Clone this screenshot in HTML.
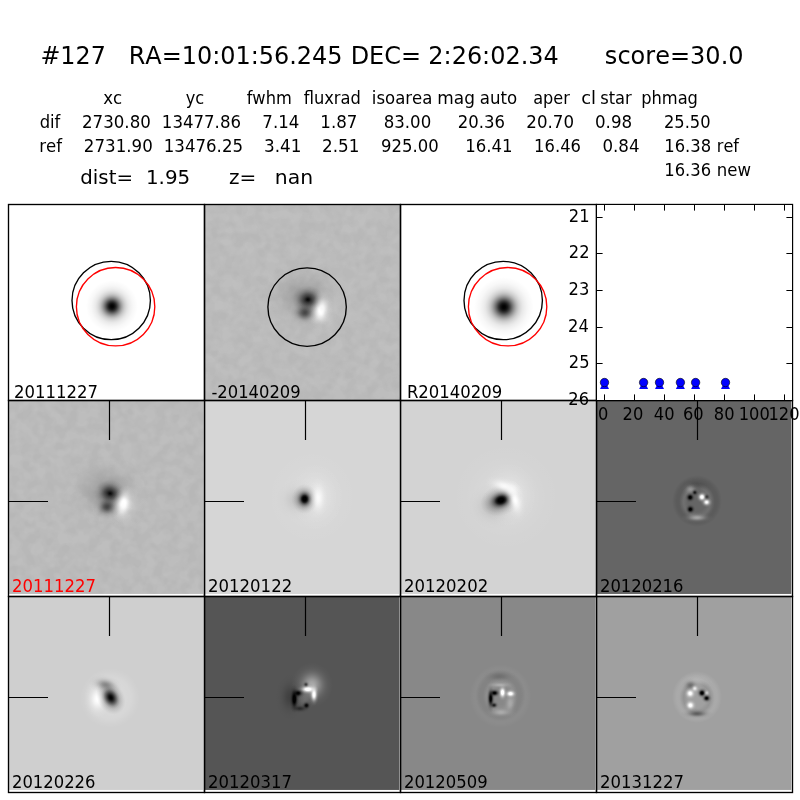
<!DOCTYPE html>
<html lang="en"><head><meta charset="utf-8"><title>#127 candidate</title>
<style>
html,body{margin:0;padding:0;background:#fff;}
body{width:800px;height:800px;overflow:hidden;}
svg{display:block;}
</style></head>
<body>
<svg width="800" height="800" viewBox="0 0 800 800">
<defs>
<filter id="nz" x="0" y="0" width="100%" height="100%" color-interpolation-filters="sRGB"><feTurbulence type="fractalNoise" baseFrequency="0.09" numOctaves="2" seed="7" result="t"/><feColorMatrix in="t" type="matrix" values="0 0 0 0 0  0 0 0 0 0  0 0 0 0 0  3 0 0 0 -1"/></filter><filter id="nz2" x="0" y="0" width="100%" height="100%" color-interpolation-filters="sRGB"><feTurbulence type="fractalNoise" baseFrequency="0.09" numOctaves="2" seed="11" result="t"/><feColorMatrix in="t" type="matrix" values="0 0 0 0 1  0 0 0 0 1  0 0 0 0 1  3 0 0 0 -1"/></filter>
<radialGradient id="g1"><stop offset="0.0" stop-color="#000" stop-opacity="1.0"/><stop offset="0.062" stop-color="#000" stop-opacity="0.977"/><stop offset="0.125" stop-color="#000" stop-opacity="0.902"/><stop offset="0.188" stop-color="#000" stop-opacity="0.777"/><stop offset="0.25" stop-color="#000" stop-opacity="0.625"/><stop offset="0.312" stop-color="#000" stop-opacity="0.481"/><stop offset="0.375" stop-color="#000" stop-opacity="0.356"/><stop offset="0.438" stop-color="#000" stop-opacity="0.254"/><stop offset="0.5" stop-color="#000" stop-opacity="0.182"/><stop offset="0.562" stop-color="#000" stop-opacity="0.132"/><stop offset="0.625" stop-color="#000" stop-opacity="0.09"/><stop offset="0.688" stop-color="#000" stop-opacity="0.065"/><stop offset="0.75" stop-color="#000" stop-opacity="0.046"/><stop offset="0.812" stop-color="#000" stop-opacity="0.028"/><stop offset="0.875" stop-color="#000" stop-opacity="0.019"/><stop offset="0.938" stop-color="#000" stop-opacity="0.009"/><stop offset="1" stop-color="#000" stop-opacity="0"/></radialGradient>
<clipPath id="c11"><rect x="8" y="204" width="196" height="196"/></clipPath>
<radialGradient id="g2"><stop offset="0.0" stop-color="#000" stop-opacity="0.18"/><stop offset="0.083" stop-color="#000" stop-opacity="0.174"/><stop offset="0.167" stop-color="#000" stop-opacity="0.159"/><stop offset="0.25" stop-color="#000" stop-opacity="0.136"/><stop offset="0.333" stop-color="#000" stop-opacity="0.109"/><stop offset="0.417" stop-color="#000" stop-opacity="0.082"/><stop offset="0.5" stop-color="#000" stop-opacity="0.058"/><stop offset="0.583" stop-color="#000" stop-opacity="0.039"/><stop offset="0.667" stop-color="#000" stop-opacity="0.024"/><stop offset="0.75" stop-color="#000" stop-opacity="0.014"/><stop offset="0.833" stop-color="#000" stop-opacity="0.008"/><stop offset="0.917" stop-color="#000" stop-opacity="0.004"/><stop offset="1" stop-color="#000" stop-opacity="0"/></radialGradient>
<radialGradient id="g3"><stop offset="0.0" stop-color="#fff" stop-opacity="0.25"/><stop offset="0.083" stop-color="#fff" stop-opacity="0.242"/><stop offset="0.167" stop-color="#fff" stop-opacity="0.221"/><stop offset="0.25" stop-color="#fff" stop-opacity="0.189"/><stop offset="0.333" stop-color="#fff" stop-opacity="0.152"/><stop offset="0.417" stop-color="#fff" stop-opacity="0.114"/><stop offset="0.5" stop-color="#fff" stop-opacity="0.081"/><stop offset="0.583" stop-color="#fff" stop-opacity="0.054"/><stop offset="0.667" stop-color="#fff" stop-opacity="0.034"/><stop offset="0.75" stop-color="#fff" stop-opacity="0.02"/><stop offset="0.833" stop-color="#fff" stop-opacity="0.011"/><stop offset="0.917" stop-color="#fff" stop-opacity="0.006"/><stop offset="1" stop-color="#fff" stop-opacity="0"/></radialGradient>
<radialGradient id="g4"><stop offset="0.0" stop-color="#000" stop-opacity="1.0"/><stop offset="0.062" stop-color="#000" stop-opacity="0.924"/><stop offset="0.125" stop-color="#000" stop-opacity="0.843"/><stop offset="0.188" stop-color="#000" stop-opacity="0.729"/><stop offset="0.25" stop-color="#000" stop-opacity="0.648"/><stop offset="0.312" stop-color="#000" stop-opacity="0.57"/><stop offset="0.375" stop-color="#000" stop-opacity="0.492"/><stop offset="0.438" stop-color="#000" stop-opacity="0.408"/><stop offset="0.5" stop-color="#000" stop-opacity="0.323"/><stop offset="0.562" stop-color="#000" stop-opacity="0.247"/><stop offset="0.625" stop-color="#000" stop-opacity="0.186"/><stop offset="0.688" stop-color="#000" stop-opacity="0.125"/><stop offset="0.75" stop-color="#000" stop-opacity="0.09"/><stop offset="0.812" stop-color="#000" stop-opacity="0.058"/><stop offset="0.875" stop-color="#000" stop-opacity="0.033"/><stop offset="0.938" stop-color="#000" stop-opacity="0.016"/><stop offset="1" stop-color="#000" stop-opacity="0"/></radialGradient>
<radialGradient id="g5"><stop offset="0.0" stop-color="#000" stop-opacity="0.62"/><stop offset="0.083" stop-color="#000" stop-opacity="0.601"/><stop offset="0.167" stop-color="#000" stop-opacity="0.547"/><stop offset="0.25" stop-color="#000" stop-opacity="0.468"/><stop offset="0.333" stop-color="#000" stop-opacity="0.376"/><stop offset="0.417" stop-color="#000" stop-opacity="0.284"/><stop offset="0.5" stop-color="#000" stop-opacity="0.201"/><stop offset="0.583" stop-color="#000" stop-opacity="0.134"/><stop offset="0.667" stop-color="#000" stop-opacity="0.084"/><stop offset="0.75" stop-color="#000" stop-opacity="0.049"/><stop offset="0.833" stop-color="#000" stop-opacity="0.027"/><stop offset="0.917" stop-color="#000" stop-opacity="0.014"/><stop offset="1" stop-color="#000" stop-opacity="0"/></radialGradient>
<radialGradient id="g6"><stop offset="0.0" stop-color="#fff" stop-opacity="1.0"/><stop offset="0.083" stop-color="#fff" stop-opacity="1.0"/><stop offset="0.167" stop-color="#fff" stop-opacity="1.0"/><stop offset="0.25" stop-color="#fff" stop-opacity="0.906"/><stop offset="0.333" stop-color="#fff" stop-opacity="0.728"/><stop offset="0.417" stop-color="#fff" stop-opacity="0.549"/><stop offset="0.5" stop-color="#fff" stop-opacity="0.39"/><stop offset="0.583" stop-color="#fff" stop-opacity="0.26"/><stop offset="0.667" stop-color="#fff" stop-opacity="0.162"/><stop offset="0.75" stop-color="#fff" stop-opacity="0.095"/><stop offset="0.833" stop-color="#fff" stop-opacity="0.053"/><stop offset="0.917" stop-color="#fff" stop-opacity="0.027"/><stop offset="1" stop-color="#fff" stop-opacity="0"/></radialGradient>
<clipPath id="c12"><rect x="204" y="204" width="196" height="196"/></clipPath>
<clipPath id="c13"><rect x="400" y="204" width="196" height="196"/></clipPath>
<clipPath id="c21"><rect x="8.5" y="400.5" width="195.0" height="193.45"/></clipPath>
<radialGradient id="g7"><stop offset="0.0" stop-color="#fff" stop-opacity="0.15"/><stop offset="0.083" stop-color="#fff" stop-opacity="0.145"/><stop offset="0.167" stop-color="#fff" stop-opacity="0.132"/><stop offset="0.25" stop-color="#fff" stop-opacity="0.113"/><stop offset="0.333" stop-color="#fff" stop-opacity="0.091"/><stop offset="0.417" stop-color="#fff" stop-opacity="0.069"/><stop offset="0.5" stop-color="#fff" stop-opacity="0.049"/><stop offset="0.583" stop-color="#fff" stop-opacity="0.032"/><stop offset="0.667" stop-color="#fff" stop-opacity="0.02"/><stop offset="0.75" stop-color="#fff" stop-opacity="0.012"/><stop offset="0.833" stop-color="#fff" stop-opacity="0.007"/><stop offset="0.917" stop-color="#fff" stop-opacity="0.003"/><stop offset="1" stop-color="#fff" stop-opacity="0"/></radialGradient>
<radialGradient id="g8"><stop offset="0.0" stop-color="#000" stop-opacity="0.12"/><stop offset="0.083" stop-color="#000" stop-opacity="0.116"/><stop offset="0.167" stop-color="#000" stop-opacity="0.106"/><stop offset="0.25" stop-color="#000" stop-opacity="0.091"/><stop offset="0.333" stop-color="#000" stop-opacity="0.073"/><stop offset="0.417" stop-color="#000" stop-opacity="0.055"/><stop offset="0.5" stop-color="#000" stop-opacity="0.039"/><stop offset="0.583" stop-color="#000" stop-opacity="0.026"/><stop offset="0.667" stop-color="#000" stop-opacity="0.016"/><stop offset="0.75" stop-color="#000" stop-opacity="0.01"/><stop offset="0.833" stop-color="#000" stop-opacity="0.005"/><stop offset="0.917" stop-color="#000" stop-opacity="0.003"/><stop offset="1" stop-color="#000" stop-opacity="0"/></radialGradient>
<radialGradient id="g9"><stop offset="0.0" stop-color="#000" stop-opacity="1.0"/><stop offset="0.062" stop-color="#000" stop-opacity="1.0"/><stop offset="0.125" stop-color="#000" stop-opacity="1.0"/><stop offset="0.188" stop-color="#000" stop-opacity="0.919"/><stop offset="0.25" stop-color="#000" stop-opacity="0.8"/><stop offset="0.312" stop-color="#000" stop-opacity="0.613"/><stop offset="0.375" stop-color="#000" stop-opacity="0.472"/><stop offset="0.438" stop-color="#000" stop-opacity="0.355"/><stop offset="0.5" stop-color="#000" stop-opacity="0.263"/><stop offset="0.562" stop-color="#000" stop-opacity="0.192"/><stop offset="0.625" stop-color="#000" stop-opacity="0.137"/><stop offset="0.688" stop-color="#000" stop-opacity="0.106"/><stop offset="0.75" stop-color="#000" stop-opacity="0.075"/><stop offset="0.812" stop-color="#000" stop-opacity="0.047"/><stop offset="0.875" stop-color="#000" stop-opacity="0.031"/><stop offset="0.938" stop-color="#000" stop-opacity="0.016"/><stop offset="1" stop-color="#000" stop-opacity="0"/></radialGradient>
<radialGradient id="g10"><stop offset="0.0" stop-color="#fff" stop-opacity="0.85"/><stop offset="0.083" stop-color="#fff" stop-opacity="0.824"/><stop offset="0.167" stop-color="#fff" stop-opacity="0.75"/><stop offset="0.25" stop-color="#fff" stop-opacity="0.642"/><stop offset="0.333" stop-color="#fff" stop-opacity="0.516"/><stop offset="0.417" stop-color="#fff" stop-opacity="0.389"/><stop offset="0.5" stop-color="#fff" stop-opacity="0.276"/><stop offset="0.583" stop-color="#fff" stop-opacity="0.184"/><stop offset="0.667" stop-color="#fff" stop-opacity="0.115"/><stop offset="0.75" stop-color="#fff" stop-opacity="0.068"/><stop offset="0.833" stop-color="#fff" stop-opacity="0.037"/><stop offset="0.917" stop-color="#fff" stop-opacity="0.019"/><stop offset="1" stop-color="#fff" stop-opacity="0"/></radialGradient>
<clipPath id="c22"><rect x="204.5" y="400.5" width="195.0" height="193.45"/></clipPath>
<radialGradient id="g11"><stop offset="0.0" stop-color="#fff" stop-opacity="0.22"/><stop offset="0.083" stop-color="#fff" stop-opacity="0.213"/><stop offset="0.167" stop-color="#fff" stop-opacity="0.194"/><stop offset="0.25" stop-color="#fff" stop-opacity="0.166"/><stop offset="0.333" stop-color="#fff" stop-opacity="0.133"/><stop offset="0.417" stop-color="#fff" stop-opacity="0.101"/><stop offset="0.5" stop-color="#fff" stop-opacity="0.071"/><stop offset="0.583" stop-color="#fff" stop-opacity="0.048"/><stop offset="0.667" stop-color="#fff" stop-opacity="0.03"/><stop offset="0.75" stop-color="#fff" stop-opacity="0.018"/><stop offset="0.833" stop-color="#fff" stop-opacity="0.01"/><stop offset="0.917" stop-color="#fff" stop-opacity="0.005"/><stop offset="1" stop-color="#fff" stop-opacity="0"/></radialGradient>
<radialGradient id="g12"><stop offset="0.0" stop-color="#fff" stop-opacity="0.3"/><stop offset="0.083" stop-color="#fff" stop-opacity="0.291"/><stop offset="0.167" stop-color="#fff" stop-opacity="0.265"/><stop offset="0.25" stop-color="#fff" stop-opacity="0.226"/><stop offset="0.333" stop-color="#fff" stop-opacity="0.182"/><stop offset="0.417" stop-color="#fff" stop-opacity="0.137"/><stop offset="0.5" stop-color="#fff" stop-opacity="0.097"/><stop offset="0.583" stop-color="#fff" stop-opacity="0.065"/><stop offset="0.667" stop-color="#fff" stop-opacity="0.041"/><stop offset="0.75" stop-color="#fff" stop-opacity="0.024"/><stop offset="0.833" stop-color="#fff" stop-opacity="0.013"/><stop offset="0.917" stop-color="#fff" stop-opacity="0.007"/><stop offset="1" stop-color="#fff" stop-opacity="0"/></radialGradient>
<radialGradient id="g13"><stop offset="0.0" stop-color="#000" stop-opacity="0.14"/><stop offset="0.083" stop-color="#000" stop-opacity="0.136"/><stop offset="0.167" stop-color="#000" stop-opacity="0.124"/><stop offset="0.25" stop-color="#000" stop-opacity="0.106"/><stop offset="0.333" stop-color="#000" stop-opacity="0.085"/><stop offset="0.417" stop-color="#000" stop-opacity="0.064"/><stop offset="0.5" stop-color="#000" stop-opacity="0.045"/><stop offset="0.583" stop-color="#000" stop-opacity="0.03"/><stop offset="0.667" stop-color="#000" stop-opacity="0.019"/><stop offset="0.75" stop-color="#000" stop-opacity="0.011"/><stop offset="0.833" stop-color="#000" stop-opacity="0.006"/><stop offset="0.917" stop-color="#000" stop-opacity="0.003"/><stop offset="1" stop-color="#000" stop-opacity="0"/></radialGradient>
<radialGradient id="g14"><stop offset="0.0" stop-color="#fff" stop-opacity="1.0"/><stop offset="0.083" stop-color="#fff" stop-opacity="0.969"/><stop offset="0.167" stop-color="#fff" stop-opacity="0.882"/><stop offset="0.25" stop-color="#fff" stop-opacity="0.755"/><stop offset="0.333" stop-color="#fff" stop-opacity="0.607"/><stop offset="0.417" stop-color="#fff" stop-opacity="0.458"/><stop offset="0.5" stop-color="#fff" stop-opacity="0.325"/><stop offset="0.583" stop-color="#fff" stop-opacity="0.216"/><stop offset="0.667" stop-color="#fff" stop-opacity="0.135"/><stop offset="0.75" stop-color="#fff" stop-opacity="0.08"/><stop offset="0.833" stop-color="#fff" stop-opacity="0.044"/><stop offset="0.917" stop-color="#fff" stop-opacity="0.023"/><stop offset="1" stop-color="#fff" stop-opacity="0"/></radialGradient>
<radialGradient id="g15"><stop offset="0.0" stop-color="#fff" stop-opacity="0.6"/><stop offset="0.083" stop-color="#fff" stop-opacity="0.582"/><stop offset="0.167" stop-color="#fff" stop-opacity="0.529"/><stop offset="0.25" stop-color="#fff" stop-opacity="0.453"/><stop offset="0.333" stop-color="#fff" stop-opacity="0.364"/><stop offset="0.417" stop-color="#fff" stop-opacity="0.275"/><stop offset="0.5" stop-color="#fff" stop-opacity="0.195"/><stop offset="0.583" stop-color="#fff" stop-opacity="0.13"/><stop offset="0.667" stop-color="#fff" stop-opacity="0.081"/><stop offset="0.75" stop-color="#fff" stop-opacity="0.048"/><stop offset="0.833" stop-color="#fff" stop-opacity="0.026"/><stop offset="0.917" stop-color="#fff" stop-opacity="0.014"/><stop offset="1" stop-color="#fff" stop-opacity="0"/></radialGradient>
<clipPath id="c23"><rect x="400.5" y="400.5" width="195.0" height="193.45"/></clipPath>
<radialGradient id="g16"><stop offset="0.0" stop-color="#000" stop-opacity="0.0"/><stop offset="0.062" stop-color="#000" stop-opacity="0.0"/><stop offset="0.125" stop-color="#000" stop-opacity="0.0"/><stop offset="0.188" stop-color="#000" stop-opacity="0.0"/><stop offset="0.25" stop-color="#000" stop-opacity="0.0"/><stop offset="0.312" stop-color="#000" stop-opacity="0.0"/><stop offset="0.375" stop-color="#000" stop-opacity="0.0"/><stop offset="0.438" stop-color="#000" stop-opacity="0.0"/><stop offset="0.5" stop-color="#000" stop-opacity="0.0"/><stop offset="0.562" stop-color="#000" stop-opacity="0.023"/><stop offset="0.625" stop-color="#000" stop-opacity="0.059"/><stop offset="0.688" stop-color="#000" stop-opacity="0.095"/><stop offset="0.75" stop-color="#000" stop-opacity="0.1"/><stop offset="0.812" stop-color="#000" stop-opacity="0.1"/><stop offset="0.875" stop-color="#000" stop-opacity="0.072"/><stop offset="0.938" stop-color="#000" stop-opacity="0.036"/><stop offset="1" stop-color="#000" stop-opacity="0"/></radialGradient>
<radialGradient id="g17"><stop offset="0.0" stop-color="#fff" stop-opacity="0.0"/><stop offset="0.062" stop-color="#fff" stop-opacity="0.0"/><stop offset="0.125" stop-color="#fff" stop-opacity="0.0"/><stop offset="0.188" stop-color="#fff" stop-opacity="0.0"/><stop offset="0.25" stop-color="#fff" stop-opacity="0.0"/><stop offset="0.312" stop-color="#fff" stop-opacity="0.0"/><stop offset="0.375" stop-color="#fff" stop-opacity="0.0"/><stop offset="0.438" stop-color="#fff" stop-opacity="0.0"/><stop offset="0.5" stop-color="#fff" stop-opacity="0.0"/><stop offset="0.562" stop-color="#fff" stop-opacity="0.02"/><stop offset="0.625" stop-color="#fff" stop-opacity="0.04"/><stop offset="0.688" stop-color="#fff" stop-opacity="0.06"/><stop offset="0.75" stop-color="#fff" stop-opacity="0.08"/><stop offset="0.812" stop-color="#fff" stop-opacity="0.06"/><stop offset="0.875" stop-color="#fff" stop-opacity="0.04"/><stop offset="0.938" stop-color="#fff" stop-opacity="0.02"/><stop offset="1" stop-color="#fff" stop-opacity="0"/></radialGradient>
<radialGradient id="g18"><stop offset="0.0" stop-color="#000" stop-opacity="0.2"/><stop offset="0.083" stop-color="#000" stop-opacity="0.194"/><stop offset="0.167" stop-color="#000" stop-opacity="0.176"/><stop offset="0.25" stop-color="#000" stop-opacity="0.151"/><stop offset="0.333" stop-color="#000" stop-opacity="0.121"/><stop offset="0.417" stop-color="#000" stop-opacity="0.092"/><stop offset="0.5" stop-color="#000" stop-opacity="0.065"/><stop offset="0.583" stop-color="#000" stop-opacity="0.043"/><stop offset="0.667" stop-color="#000" stop-opacity="0.027"/><stop offset="0.75" stop-color="#000" stop-opacity="0.016"/><stop offset="0.833" stop-color="#000" stop-opacity="0.009"/><stop offset="0.917" stop-color="#000" stop-opacity="0.005"/><stop offset="1" stop-color="#000" stop-opacity="0"/></radialGradient>
<radialGradient id="g19"><stop offset="0.0" stop-color="#fff" stop-opacity="0.4"/><stop offset="0.083" stop-color="#fff" stop-opacity="0.388"/><stop offset="0.167" stop-color="#fff" stop-opacity="0.353"/><stop offset="0.25" stop-color="#fff" stop-opacity="0.302"/><stop offset="0.333" stop-color="#fff" stop-opacity="0.243"/><stop offset="0.417" stop-color="#fff" stop-opacity="0.183"/><stop offset="0.5" stop-color="#fff" stop-opacity="0.13"/><stop offset="0.583" stop-color="#fff" stop-opacity="0.087"/><stop offset="0.667" stop-color="#fff" stop-opacity="0.054"/><stop offset="0.75" stop-color="#fff" stop-opacity="0.032"/><stop offset="0.833" stop-color="#fff" stop-opacity="0.018"/><stop offset="0.917" stop-color="#fff" stop-opacity="0.009"/><stop offset="1" stop-color="#fff" stop-opacity="0"/></radialGradient>
<radialGradient id="g20"><stop offset="0.0" stop-color="#000" stop-opacity="1.0"/><stop offset="0.083" stop-color="#000" stop-opacity="1.0"/><stop offset="0.167" stop-color="#000" stop-opacity="1.0"/><stop offset="0.25" stop-color="#000" stop-opacity="0.868"/><stop offset="0.333" stop-color="#000" stop-opacity="0.698"/><stop offset="0.417" stop-color="#000" stop-opacity="0.527"/><stop offset="0.5" stop-color="#000" stop-opacity="0.373"/><stop offset="0.583" stop-color="#000" stop-opacity="0.249"/><stop offset="0.667" stop-color="#000" stop-opacity="0.156"/><stop offset="0.75" stop-color="#000" stop-opacity="0.091"/><stop offset="0.833" stop-color="#000" stop-opacity="0.051"/><stop offset="0.917" stop-color="#000" stop-opacity="0.026"/><stop offset="1" stop-color="#000" stop-opacity="0"/></radialGradient>
<radialGradient id="g21"><stop offset="0.0" stop-color="#000" stop-opacity="0.8"/><stop offset="0.083" stop-color="#000" stop-opacity="0.775"/><stop offset="0.167" stop-color="#000" stop-opacity="0.706"/><stop offset="0.25" stop-color="#000" stop-opacity="0.604"/><stop offset="0.333" stop-color="#000" stop-opacity="0.485"/><stop offset="0.417" stop-color="#000" stop-opacity="0.366"/><stop offset="0.5" stop-color="#000" stop-opacity="0.26"/><stop offset="0.583" stop-color="#000" stop-opacity="0.173"/><stop offset="0.667" stop-color="#000" stop-opacity="0.108"/><stop offset="0.75" stop-color="#000" stop-opacity="0.064"/><stop offset="0.833" stop-color="#000" stop-opacity="0.035"/><stop offset="0.917" stop-color="#000" stop-opacity="0.018"/><stop offset="1" stop-color="#000" stop-opacity="0"/></radialGradient>
<radialGradient id="g22"><stop offset="0.0" stop-color="#fff" stop-opacity="1.0"/><stop offset="0.083" stop-color="#fff" stop-opacity="1.0"/><stop offset="0.167" stop-color="#fff" stop-opacity="0.927"/><stop offset="0.25" stop-color="#fff" stop-opacity="0.793"/><stop offset="0.333" stop-color="#fff" stop-opacity="0.637"/><stop offset="0.417" stop-color="#fff" stop-opacity="0.481"/><stop offset="0.5" stop-color="#fff" stop-opacity="0.341"/><stop offset="0.583" stop-color="#fff" stop-opacity="0.227"/><stop offset="0.667" stop-color="#fff" stop-opacity="0.142"/><stop offset="0.75" stop-color="#fff" stop-opacity="0.084"/><stop offset="0.833" stop-color="#fff" stop-opacity="0.046"/><stop offset="0.917" stop-color="#fff" stop-opacity="0.024"/><stop offset="1" stop-color="#fff" stop-opacity="0"/></radialGradient>
<radialGradient id="g23"><stop offset="0.0" stop-color="#000" stop-opacity="0.5"/><stop offset="0.083" stop-color="#000" stop-opacity="0.485"/><stop offset="0.167" stop-color="#000" stop-opacity="0.441"/><stop offset="0.25" stop-color="#000" stop-opacity="0.377"/><stop offset="0.333" stop-color="#000" stop-opacity="0.303"/><stop offset="0.417" stop-color="#000" stop-opacity="0.229"/><stop offset="0.5" stop-color="#000" stop-opacity="0.162"/><stop offset="0.583" stop-color="#000" stop-opacity="0.108"/><stop offset="0.667" stop-color="#000" stop-opacity="0.068"/><stop offset="0.75" stop-color="#000" stop-opacity="0.04"/><stop offset="0.833" stop-color="#000" stop-opacity="0.022"/><stop offset="0.917" stop-color="#000" stop-opacity="0.011"/><stop offset="1" stop-color="#000" stop-opacity="0"/></radialGradient>
<clipPath id="c24"><rect x="596.5" y="400.5" width="195.0" height="193.45"/></clipPath>
<radialGradient id="g24"><stop offset="0.0" stop-color="#fff" stop-opacity="0.2"/><stop offset="0.062" stop-color="#fff" stop-opacity="0.2"/><stop offset="0.125" stop-color="#fff" stop-opacity="0.2"/><stop offset="0.188" stop-color="#fff" stop-opacity="0.2"/><stop offset="0.25" stop-color="#fff" stop-opacity="0.2"/><stop offset="0.312" stop-color="#fff" stop-opacity="0.2"/><stop offset="0.375" stop-color="#fff" stop-opacity="0.2"/><stop offset="0.438" stop-color="#fff" stop-opacity="0.2"/><stop offset="0.5" stop-color="#fff" stop-opacity="0.194"/><stop offset="0.562" stop-color="#fff" stop-opacity="0.184"/><stop offset="0.625" stop-color="#fff" stop-opacity="0.173"/><stop offset="0.688" stop-color="#fff" stop-opacity="0.162"/><stop offset="0.75" stop-color="#fff" stop-opacity="0.13"/><stop offset="0.812" stop-color="#fff" stop-opacity="0.092"/><stop offset="0.875" stop-color="#fff" stop-opacity="0.056"/><stop offset="0.938" stop-color="#fff" stop-opacity="0.028"/><stop offset="1" stop-color="#fff" stop-opacity="0"/></radialGradient>
<radialGradient id="g25"><stop offset="0.0" stop-color="#000" stop-opacity="0.33"/><stop offset="0.083" stop-color="#000" stop-opacity="0.32"/><stop offset="0.167" stop-color="#000" stop-opacity="0.291"/><stop offset="0.25" stop-color="#000" stop-opacity="0.249"/><stop offset="0.333" stop-color="#000" stop-opacity="0.2"/><stop offset="0.417" stop-color="#000" stop-opacity="0.151"/><stop offset="0.5" stop-color="#000" stop-opacity="0.107"/><stop offset="0.583" stop-color="#000" stop-opacity="0.071"/><stop offset="0.667" stop-color="#000" stop-opacity="0.045"/><stop offset="0.75" stop-color="#000" stop-opacity="0.026"/><stop offset="0.833" stop-color="#000" stop-opacity="0.014"/><stop offset="0.917" stop-color="#000" stop-opacity="0.008"/><stop offset="1" stop-color="#000" stop-opacity="0"/></radialGradient>
<radialGradient id="g26"><stop offset="0.0" stop-color="#000" stop-opacity="1.0"/><stop offset="0.062" stop-color="#000" stop-opacity="0.971"/><stop offset="0.125" stop-color="#000" stop-opacity="0.925"/><stop offset="0.188" stop-color="#000" stop-opacity="0.838"/><stop offset="0.25" stop-color="#000" stop-opacity="0.738"/><stop offset="0.312" stop-color="#000" stop-opacity="0.628"/><stop offset="0.375" stop-color="#000" stop-opacity="0.519"/><stop offset="0.438" stop-color="#000" stop-opacity="0.409"/><stop offset="0.5" stop-color="#000" stop-opacity="0.3"/><stop offset="0.562" stop-color="#000" stop-opacity="0.23"/><stop offset="0.625" stop-color="#000" stop-opacity="0.16"/><stop offset="0.688" stop-color="#000" stop-opacity="0.119"/><stop offset="0.75" stop-color="#000" stop-opacity="0.09"/><stop offset="0.812" stop-color="#000" stop-opacity="0.061"/><stop offset="0.875" stop-color="#000" stop-opacity="0.035"/><stop offset="0.938" stop-color="#000" stop-opacity="0.018"/><stop offset="1" stop-color="#000" stop-opacity="0"/></radialGradient>
<clipPath id="c31"><rect x="8.5" y="596.5" width="195.0" height="193.45"/></clipPath>
<radialGradient id="g27"><stop offset="0.0" stop-color="#000" stop-opacity="0.25"/><stop offset="0.083" stop-color="#000" stop-opacity="0.242"/><stop offset="0.167" stop-color="#000" stop-opacity="0.221"/><stop offset="0.25" stop-color="#000" stop-opacity="0.189"/><stop offset="0.333" stop-color="#000" stop-opacity="0.152"/><stop offset="0.417" stop-color="#000" stop-opacity="0.114"/><stop offset="0.5" stop-color="#000" stop-opacity="0.081"/><stop offset="0.583" stop-color="#000" stop-opacity="0.054"/><stop offset="0.667" stop-color="#000" stop-opacity="0.034"/><stop offset="0.75" stop-color="#000" stop-opacity="0.02"/><stop offset="0.833" stop-color="#000" stop-opacity="0.011"/><stop offset="0.917" stop-color="#000" stop-opacity="0.006"/><stop offset="1" stop-color="#000" stop-opacity="0"/></radialGradient>
<radialGradient id="g28"><stop offset="0.0" stop-color="#fff" stop-opacity="0.5"/><stop offset="0.083" stop-color="#fff" stop-opacity="0.485"/><stop offset="0.167" stop-color="#fff" stop-opacity="0.441"/><stop offset="0.25" stop-color="#fff" stop-opacity="0.377"/><stop offset="0.333" stop-color="#fff" stop-opacity="0.303"/><stop offset="0.417" stop-color="#fff" stop-opacity="0.229"/><stop offset="0.5" stop-color="#fff" stop-opacity="0.162"/><stop offset="0.583" stop-color="#fff" stop-opacity="0.108"/><stop offset="0.667" stop-color="#fff" stop-opacity="0.068"/><stop offset="0.75" stop-color="#fff" stop-opacity="0.04"/><stop offset="0.833" stop-color="#fff" stop-opacity="0.022"/><stop offset="0.917" stop-color="#fff" stop-opacity="0.011"/><stop offset="1" stop-color="#fff" stop-opacity="0"/></radialGradient>
<radialGradient id="g29"><stop offset="0.0" stop-color="#fff" stop-opacity="1.0"/><stop offset="0.083" stop-color="#fff" stop-opacity="1.0"/><stop offset="0.167" stop-color="#fff" stop-opacity="1.0"/><stop offset="0.25" stop-color="#fff" stop-opacity="0.981"/><stop offset="0.333" stop-color="#fff" stop-opacity="0.788"/><stop offset="0.417" stop-color="#fff" stop-opacity="0.595"/><stop offset="0.5" stop-color="#fff" stop-opacity="0.422"/><stop offset="0.583" stop-color="#fff" stop-opacity="0.281"/><stop offset="0.667" stop-color="#fff" stop-opacity="0.176"/><stop offset="0.75" stop-color="#fff" stop-opacity="0.103"/><stop offset="0.833" stop-color="#fff" stop-opacity="0.057"/><stop offset="0.917" stop-color="#fff" stop-opacity="0.03"/><stop offset="1" stop-color="#fff" stop-opacity="0"/></radialGradient>
<radialGradient id="g30"><stop offset="0.0" stop-color="#000" stop-opacity="1.0"/><stop offset="0.083" stop-color="#000" stop-opacity="1.0"/><stop offset="0.167" stop-color="#000" stop-opacity="1.0"/><stop offset="0.25" stop-color="#000" stop-opacity="0.981"/><stop offset="0.333" stop-color="#000" stop-opacity="0.788"/><stop offset="0.417" stop-color="#000" stop-opacity="0.595"/><stop offset="0.5" stop-color="#000" stop-opacity="0.422"/><stop offset="0.583" stop-color="#000" stop-opacity="0.281"/><stop offset="0.667" stop-color="#000" stop-opacity="0.176"/><stop offset="0.75" stop-color="#000" stop-opacity="0.103"/><stop offset="0.833" stop-color="#000" stop-opacity="0.057"/><stop offset="0.917" stop-color="#000" stop-opacity="0.03"/><stop offset="1" stop-color="#000" stop-opacity="0"/></radialGradient>
<radialGradient id="g31"><stop offset="0.0" stop-color="#000" stop-opacity="1.0"/><stop offset="0.083" stop-color="#000" stop-opacity="1.0"/><stop offset="0.167" stop-color="#000" stop-opacity="0.971"/><stop offset="0.25" stop-color="#000" stop-opacity="0.83"/><stop offset="0.333" stop-color="#000" stop-opacity="0.667"/><stop offset="0.417" stop-color="#000" stop-opacity="0.504"/><stop offset="0.5" stop-color="#000" stop-opacity="0.357"/><stop offset="0.583" stop-color="#000" stop-opacity="0.238"/><stop offset="0.667" stop-color="#000" stop-opacity="0.149"/><stop offset="0.75" stop-color="#000" stop-opacity="0.088"/><stop offset="0.833" stop-color="#000" stop-opacity="0.048"/><stop offset="0.917" stop-color="#000" stop-opacity="0.025"/><stop offset="1" stop-color="#000" stop-opacity="0"/></radialGradient>
<radialGradient id="g32"><stop offset="0.0" stop-color="#000" stop-opacity="0.6"/><stop offset="0.083" stop-color="#000" stop-opacity="0.582"/><stop offset="0.167" stop-color="#000" stop-opacity="0.529"/><stop offset="0.25" stop-color="#000" stop-opacity="0.453"/><stop offset="0.333" stop-color="#000" stop-opacity="0.364"/><stop offset="0.417" stop-color="#000" stop-opacity="0.275"/><stop offset="0.5" stop-color="#000" stop-opacity="0.195"/><stop offset="0.583" stop-color="#000" stop-opacity="0.13"/><stop offset="0.667" stop-color="#000" stop-opacity="0.081"/><stop offset="0.75" stop-color="#000" stop-opacity="0.048"/><stop offset="0.833" stop-color="#000" stop-opacity="0.026"/><stop offset="0.917" stop-color="#000" stop-opacity="0.014"/><stop offset="1" stop-color="#000" stop-opacity="0"/></radialGradient>
<radialGradient id="g33"><stop offset="0.0" stop-color="#fff" stop-opacity="0.1"/><stop offset="0.083" stop-color="#fff" stop-opacity="0.097"/><stop offset="0.167" stop-color="#fff" stop-opacity="0.088"/><stop offset="0.25" stop-color="#fff" stop-opacity="0.075"/><stop offset="0.333" stop-color="#fff" stop-opacity="0.061"/><stop offset="0.417" stop-color="#fff" stop-opacity="0.046"/><stop offset="0.5" stop-color="#fff" stop-opacity="0.032"/><stop offset="0.583" stop-color="#fff" stop-opacity="0.022"/><stop offset="0.667" stop-color="#fff" stop-opacity="0.014"/><stop offset="0.75" stop-color="#fff" stop-opacity="0.008"/><stop offset="0.833" stop-color="#fff" stop-opacity="0.004"/><stop offset="0.917" stop-color="#fff" stop-opacity="0.002"/><stop offset="1" stop-color="#fff" stop-opacity="0"/></radialGradient>
<clipPath id="c32"><rect x="204.5" y="596.5" width="195.0" height="193.45"/></clipPath>
<radialGradient id="g34"><stop offset="0.0" stop-color="#fff" stop-opacity="0.0"/><stop offset="0.062" stop-color="#fff" stop-opacity="0.0"/><stop offset="0.125" stop-color="#fff" stop-opacity="0.0"/><stop offset="0.188" stop-color="#fff" stop-opacity="0.0"/><stop offset="0.25" stop-color="#fff" stop-opacity="0.0"/><stop offset="0.312" stop-color="#fff" stop-opacity="0.0"/><stop offset="0.375" stop-color="#fff" stop-opacity="0.0"/><stop offset="0.438" stop-color="#fff" stop-opacity="0.0"/><stop offset="0.5" stop-color="#fff" stop-opacity="0.0"/><stop offset="0.562" stop-color="#fff" stop-opacity="0.0"/><stop offset="0.625" stop-color="#fff" stop-opacity="0.0"/><stop offset="0.688" stop-color="#fff" stop-opacity="0.005"/><stop offset="0.75" stop-color="#fff" stop-opacity="0.02"/><stop offset="0.812" stop-color="#fff" stop-opacity="0.035"/><stop offset="0.875" stop-color="#fff" stop-opacity="0.03"/><stop offset="0.938" stop-color="#fff" stop-opacity="0.015"/><stop offset="1" stop-color="#fff" stop-opacity="0"/></radialGradient>
<radialGradient id="g35"><stop offset="0.0" stop-color="#000" stop-opacity="0.0"/><stop offset="0.062" stop-color="#000" stop-opacity="0.0"/><stop offset="0.125" stop-color="#000" stop-opacity="0.0"/><stop offset="0.188" stop-color="#000" stop-opacity="0.0"/><stop offset="0.25" stop-color="#000" stop-opacity="0.0"/><stop offset="0.312" stop-color="#000" stop-opacity="0.0"/><stop offset="0.375" stop-color="#000" stop-opacity="0.0"/><stop offset="0.438" stop-color="#000" stop-opacity="0.0"/><stop offset="0.5" stop-color="#000" stop-opacity="0.0"/><stop offset="0.562" stop-color="#000" stop-opacity="0.009"/><stop offset="0.625" stop-color="#000" stop-opacity="0.024"/><stop offset="0.688" stop-color="#000" stop-opacity="0.038"/><stop offset="0.75" stop-color="#000" stop-opacity="0.04"/><stop offset="0.812" stop-color="#000" stop-opacity="0.04"/><stop offset="0.875" stop-color="#000" stop-opacity="0.029"/><stop offset="0.938" stop-color="#000" stop-opacity="0.014"/><stop offset="1" stop-color="#000" stop-opacity="0"/></radialGradient>
<radialGradient id="g36"><stop offset="0.0" stop-color="#fff" stop-opacity="0.0"/><stop offset="0.062" stop-color="#fff" stop-opacity="0.0"/><stop offset="0.125" stop-color="#fff" stop-opacity="0.0"/><stop offset="0.188" stop-color="#fff" stop-opacity="0.0"/><stop offset="0.25" stop-color="#fff" stop-opacity="0.0"/><stop offset="0.312" stop-color="#fff" stop-opacity="0.0"/><stop offset="0.375" stop-color="#fff" stop-opacity="0.0"/><stop offset="0.438" stop-color="#fff" stop-opacity="0.0"/><stop offset="0.5" stop-color="#fff" stop-opacity="0.014"/><stop offset="0.562" stop-color="#fff" stop-opacity="0.028"/><stop offset="0.625" stop-color="#fff" stop-opacity="0.042"/><stop offset="0.688" stop-color="#fff" stop-opacity="0.056"/><stop offset="0.75" stop-color="#fff" stop-opacity="0.07"/><stop offset="0.812" stop-color="#fff" stop-opacity="0.053"/><stop offset="0.875" stop-color="#fff" stop-opacity="0.035"/><stop offset="0.938" stop-color="#fff" stop-opacity="0.018"/><stop offset="1" stop-color="#fff" stop-opacity="0"/></radialGradient>
<radialGradient id="g37"><stop offset="0.0" stop-color="#000" stop-opacity="0.15"/><stop offset="0.083" stop-color="#000" stop-opacity="0.145"/><stop offset="0.167" stop-color="#000" stop-opacity="0.132"/><stop offset="0.25" stop-color="#000" stop-opacity="0.113"/><stop offset="0.333" stop-color="#000" stop-opacity="0.091"/><stop offset="0.417" stop-color="#000" stop-opacity="0.069"/><stop offset="0.5" stop-color="#000" stop-opacity="0.049"/><stop offset="0.583" stop-color="#000" stop-opacity="0.032"/><stop offset="0.667" stop-color="#000" stop-opacity="0.02"/><stop offset="0.75" stop-color="#000" stop-opacity="0.012"/><stop offset="0.833" stop-color="#000" stop-opacity="0.007"/><stop offset="0.917" stop-color="#000" stop-opacity="0.003"/><stop offset="1" stop-color="#000" stop-opacity="0"/></radialGradient>
<radialGradient id="g38"><stop offset="0.0" stop-color="#fff" stop-opacity="1.0"/><stop offset="0.083" stop-color="#fff" stop-opacity="1.0"/><stop offset="0.167" stop-color="#fff" stop-opacity="1.0"/><stop offset="0.25" stop-color="#fff" stop-opacity="0.944"/><stop offset="0.333" stop-color="#fff" stop-opacity="0.758"/><stop offset="0.417" stop-color="#fff" stop-opacity="0.572"/><stop offset="0.5" stop-color="#fff" stop-opacity="0.406"/><stop offset="0.583" stop-color="#fff" stop-opacity="0.27"/><stop offset="0.667" stop-color="#fff" stop-opacity="0.169"/><stop offset="0.75" stop-color="#fff" stop-opacity="0.099"/><stop offset="0.833" stop-color="#fff" stop-opacity="0.055"/><stop offset="0.917" stop-color="#fff" stop-opacity="0.028"/><stop offset="1" stop-color="#fff" stop-opacity="0"/></radialGradient>
<clipPath id="c33"><rect x="400.5" y="596.5" width="195.0" height="193.45"/></clipPath>
<radialGradient id="g39"><stop offset="0.0" stop-color="#fff" stop-opacity="0.0"/><stop offset="0.062" stop-color="#fff" stop-opacity="0.0"/><stop offset="0.125" stop-color="#fff" stop-opacity="0.0"/><stop offset="0.188" stop-color="#fff" stop-opacity="0.0"/><stop offset="0.25" stop-color="#fff" stop-opacity="0.0"/><stop offset="0.312" stop-color="#fff" stop-opacity="0.0"/><stop offset="0.375" stop-color="#fff" stop-opacity="0.0"/><stop offset="0.438" stop-color="#fff" stop-opacity="0.0"/><stop offset="0.5" stop-color="#fff" stop-opacity="0.0"/><stop offset="0.562" stop-color="#fff" stop-opacity="0.023"/><stop offset="0.625" stop-color="#fff" stop-opacity="0.059"/><stop offset="0.688" stop-color="#fff" stop-opacity="0.095"/><stop offset="0.75" stop-color="#fff" stop-opacity="0.1"/><stop offset="0.812" stop-color="#fff" stop-opacity="0.1"/><stop offset="0.875" stop-color="#fff" stop-opacity="0.072"/><stop offset="0.938" stop-color="#fff" stop-opacity="0.036"/><stop offset="1" stop-color="#fff" stop-opacity="0"/></radialGradient>
<radialGradient id="g40"><stop offset="0.0" stop-color="#000" stop-opacity="0.0"/><stop offset="0.062" stop-color="#000" stop-opacity="0.0"/><stop offset="0.125" stop-color="#000" stop-opacity="0.0"/><stop offset="0.188" stop-color="#000" stop-opacity="0.0"/><stop offset="0.25" stop-color="#000" stop-opacity="0.0"/><stop offset="0.312" stop-color="#000" stop-opacity="0.0"/><stop offset="0.375" stop-color="#000" stop-opacity="0.0"/><stop offset="0.438" stop-color="#000" stop-opacity="0.0"/><stop offset="0.5" stop-color="#000" stop-opacity="0.0"/><stop offset="0.562" stop-color="#000" stop-opacity="0.02"/><stop offset="0.625" stop-color="#000" stop-opacity="0.04"/><stop offset="0.688" stop-color="#000" stop-opacity="0.06"/><stop offset="0.75" stop-color="#000" stop-opacity="0.08"/><stop offset="0.812" stop-color="#000" stop-opacity="0.06"/><stop offset="0.875" stop-color="#000" stop-opacity="0.04"/><stop offset="0.938" stop-color="#000" stop-opacity="0.02"/><stop offset="1" stop-color="#000" stop-opacity="0"/></radialGradient>
<radialGradient id="g41"><stop offset="0.0" stop-color="#fff" stop-opacity="0.2"/><stop offset="0.083" stop-color="#fff" stop-opacity="0.194"/><stop offset="0.167" stop-color="#fff" stop-opacity="0.176"/><stop offset="0.25" stop-color="#fff" stop-opacity="0.151"/><stop offset="0.333" stop-color="#fff" stop-opacity="0.121"/><stop offset="0.417" stop-color="#fff" stop-opacity="0.092"/><stop offset="0.5" stop-color="#fff" stop-opacity="0.065"/><stop offset="0.583" stop-color="#fff" stop-opacity="0.043"/><stop offset="0.667" stop-color="#fff" stop-opacity="0.027"/><stop offset="0.75" stop-color="#fff" stop-opacity="0.016"/><stop offset="0.833" stop-color="#fff" stop-opacity="0.009"/><stop offset="0.917" stop-color="#fff" stop-opacity="0.005"/><stop offset="1" stop-color="#fff" stop-opacity="0"/></radialGradient>
<radialGradient id="g42"><stop offset="0.0" stop-color="#000" stop-opacity="0.3"/><stop offset="0.083" stop-color="#000" stop-opacity="0.291"/><stop offset="0.167" stop-color="#000" stop-opacity="0.265"/><stop offset="0.25" stop-color="#000" stop-opacity="0.226"/><stop offset="0.333" stop-color="#000" stop-opacity="0.182"/><stop offset="0.417" stop-color="#000" stop-opacity="0.137"/><stop offset="0.5" stop-color="#000" stop-opacity="0.097"/><stop offset="0.583" stop-color="#000" stop-opacity="0.065"/><stop offset="0.667" stop-color="#000" stop-opacity="0.041"/><stop offset="0.75" stop-color="#000" stop-opacity="0.024"/><stop offset="0.833" stop-color="#000" stop-opacity="0.013"/><stop offset="0.917" stop-color="#000" stop-opacity="0.007"/><stop offset="1" stop-color="#000" stop-opacity="0"/></radialGradient>
<radialGradient id="g43"><stop offset="0.0" stop-color="#000" stop-opacity="0.4"/><stop offset="0.083" stop-color="#000" stop-opacity="0.388"/><stop offset="0.167" stop-color="#000" stop-opacity="0.353"/><stop offset="0.25" stop-color="#000" stop-opacity="0.302"/><stop offset="0.333" stop-color="#000" stop-opacity="0.243"/><stop offset="0.417" stop-color="#000" stop-opacity="0.183"/><stop offset="0.5" stop-color="#000" stop-opacity="0.13"/><stop offset="0.583" stop-color="#000" stop-opacity="0.087"/><stop offset="0.667" stop-color="#000" stop-opacity="0.054"/><stop offset="0.75" stop-color="#000" stop-opacity="0.032"/><stop offset="0.833" stop-color="#000" stop-opacity="0.018"/><stop offset="0.917" stop-color="#000" stop-opacity="0.009"/><stop offset="1" stop-color="#000" stop-opacity="0"/></radialGradient>
<radialGradient id="g44"><stop offset="0.0" stop-color="#fff" stop-opacity="1.0"/><stop offset="0.083" stop-color="#fff" stop-opacity="1.0"/><stop offset="0.167" stop-color="#fff" stop-opacity="1.0"/><stop offset="0.25" stop-color="#fff" stop-opacity="0.868"/><stop offset="0.333" stop-color="#fff" stop-opacity="0.698"/><stop offset="0.417" stop-color="#fff" stop-opacity="0.527"/><stop offset="0.5" stop-color="#fff" stop-opacity="0.373"/><stop offset="0.583" stop-color="#fff" stop-opacity="0.249"/><stop offset="0.667" stop-color="#fff" stop-opacity="0.156"/><stop offset="0.75" stop-color="#fff" stop-opacity="0.091"/><stop offset="0.833" stop-color="#fff" stop-opacity="0.051"/><stop offset="0.917" stop-color="#fff" stop-opacity="0.026"/><stop offset="1" stop-color="#fff" stop-opacity="0"/></radialGradient>
<radialGradient id="g45"><stop offset="0.0" stop-color="#fff" stop-opacity="0.8"/><stop offset="0.083" stop-color="#fff" stop-opacity="0.775"/><stop offset="0.167" stop-color="#fff" stop-opacity="0.706"/><stop offset="0.25" stop-color="#fff" stop-opacity="0.604"/><stop offset="0.333" stop-color="#fff" stop-opacity="0.485"/><stop offset="0.417" stop-color="#fff" stop-opacity="0.366"/><stop offset="0.5" stop-color="#fff" stop-opacity="0.26"/><stop offset="0.583" stop-color="#fff" stop-opacity="0.173"/><stop offset="0.667" stop-color="#fff" stop-opacity="0.108"/><stop offset="0.75" stop-color="#fff" stop-opacity="0.064"/><stop offset="0.833" stop-color="#fff" stop-opacity="0.035"/><stop offset="0.917" stop-color="#fff" stop-opacity="0.018"/><stop offset="1" stop-color="#fff" stop-opacity="0"/></radialGradient>
<radialGradient id="g46"><stop offset="0.0" stop-color="#000" stop-opacity="1.0"/><stop offset="0.083" stop-color="#000" stop-opacity="1.0"/><stop offset="0.167" stop-color="#000" stop-opacity="1.0"/><stop offset="0.25" stop-color="#000" stop-opacity="0.906"/><stop offset="0.333" stop-color="#000" stop-opacity="0.728"/><stop offset="0.417" stop-color="#000" stop-opacity="0.549"/><stop offset="0.5" stop-color="#000" stop-opacity="0.39"/><stop offset="0.583" stop-color="#000" stop-opacity="0.26"/><stop offset="0.667" stop-color="#000" stop-opacity="0.162"/><stop offset="0.75" stop-color="#000" stop-opacity="0.095"/><stop offset="0.833" stop-color="#000" stop-opacity="0.053"/><stop offset="0.917" stop-color="#000" stop-opacity="0.027"/><stop offset="1" stop-color="#000" stop-opacity="0"/></radialGradient>
<radialGradient id="g47"><stop offset="0.0" stop-color="#000" stop-opacity="1.0"/><stop offset="0.083" stop-color="#000" stop-opacity="1.0"/><stop offset="0.167" stop-color="#000" stop-opacity="0.927"/><stop offset="0.25" stop-color="#000" stop-opacity="0.793"/><stop offset="0.333" stop-color="#000" stop-opacity="0.637"/><stop offset="0.417" stop-color="#000" stop-opacity="0.481"/><stop offset="0.5" stop-color="#000" stop-opacity="0.341"/><stop offset="0.583" stop-color="#000" stop-opacity="0.227"/><stop offset="0.667" stop-color="#000" stop-opacity="0.142"/><stop offset="0.75" stop-color="#000" stop-opacity="0.084"/><stop offset="0.833" stop-color="#000" stop-opacity="0.046"/><stop offset="0.917" stop-color="#000" stop-opacity="0.024"/><stop offset="1" stop-color="#000" stop-opacity="0"/></radialGradient>
<clipPath id="c34"><rect x="596.5" y="596.5" width="195.0" height="193.45"/></clipPath>
</defs>
<rect width="800" height="800" fill="#fff"/>
<g clip-path="url(#c11)"><rect x="8" y="204" width="196" height="196" fill="rgb(255,255,255)"/><ellipse cx="112" cy="306.3" rx="26" ry="26" fill="url(#g1)"/></g>
<g clip-path="url(#c12)"><rect x="204" y="204" width="196" height="196" fill="rgb(189,189,189)"/><ellipse cx="304.2" cy="296.4" rx="45.00" ry="36.00" fill="url(#g2)"/><ellipse cx="323.2" cy="309.4" rx="24.00" ry="27.00" fill="url(#g3)"/><ellipse cx="307.9" cy="299.4" rx="16" ry="14" fill="url(#g4)"/><ellipse cx="304.9" cy="312.79999999999995" rx="14.40" ry="12.60" fill="url(#g5)"/><ellipse cx="321.3" cy="310.0" rx="11.10" ry="19.20" fill="url(#g6)" transform="rotate(12 321.3 310.0)"/><rect x="204" y="204" width="196" height="196" filter="url(#nz)" opacity="0.028"/><rect x="204" y="204" width="196" height="196" filter="url(#nz2)" opacity="0.028"/></g>
<g clip-path="url(#c13)"><rect x="400" y="204" width="196" height="196" fill="rgb(255,255,255)"/><ellipse cx="503.9" cy="307" rx="30" ry="30" fill="url(#g1)"/></g>
<g clip-path="url(#c21)"><rect x="8.5" y="400.5" width="195.0" height="193.45" fill="rgb(189,189,189)"/><ellipse cx="106.3" cy="490.4" rx="45.00" ry="36.00" fill="url(#g2)"/><ellipse cx="125.3" cy="503.4" rx="24.00" ry="27.00" fill="url(#g3)"/><ellipse cx="110.0" cy="493.4" rx="16" ry="14" fill="url(#g4)"/><ellipse cx="107.0" cy="506.79999999999995" rx="14.40" ry="12.60" fill="url(#g5)"/><ellipse cx="123.39999999999999" cy="504.0" rx="11.10" ry="19.20" fill="url(#g6)" transform="rotate(12 123.39999999999999 504.0)"/><rect x="8" y="400" width="196" height="196" filter="url(#nz)" opacity="0.028"/><rect x="8" y="400" width="196" height="196" filter="url(#nz2)" opacity="0.028"/></g>
<g clip-path="url(#c22)"><rect x="204.5" y="400.5" width="195.0" height="193.45" fill="rgb(214,214,214)"/><ellipse cx="312" cy="497" rx="54.00" ry="57.00" fill="url(#g7)"/><ellipse cx="317" cy="497" rx="30.00" ry="39.00" fill="url(#g3)"/><ellipse cx="299" cy="500" rx="24.00" ry="21.00" fill="url(#g8)"/><ellipse cx="304.6" cy="499" rx="13" ry="15" fill="url(#g9)"/><ellipse cx="318.3" cy="498" rx="9.60" ry="21.00" fill="url(#g10)"/></g>
<g clip-path="url(#c23)"><rect x="400.5" y="400.5" width="195.0" height="193.45" fill="rgb(211,211,211)"/><ellipse cx="506" cy="497" rx="60.00" ry="60.00" fill="url(#g11)"/><ellipse cx="510" cy="495" rx="30.00" ry="36.00" fill="url(#g12)"/><ellipse cx="494" cy="506" rx="27.00" ry="24.00" fill="url(#g13)"/><ellipse cx="500.9" cy="500.2" rx="21" ry="15.5" fill="url(#g9)" transform="rotate(-18 500.9 500.2)"/><ellipse cx="515.3" cy="500" rx="9.60" ry="21.00" fill="url(#g14)" transform="rotate(-12 515.3 500)"/><ellipse cx="511.5" cy="490.5" rx="10.50" ry="10.50" fill="url(#g15)"/><ellipse cx="504.5" cy="486.3" rx="21.00" ry="9.00" fill="url(#g10)" transform="rotate(18 504.5 486.3)"/></g>
<g clip-path="url(#c24)"><rect x="596.5" y="400.5" width="195.0" height="193.45" fill="rgb(101,101,101)"/><ellipse cx="697" cy="501" rx="25" ry="26" fill="url(#g16)"/><ellipse cx="697" cy="502" rx="18" ry="19" fill="url(#g17)"/><ellipse cx="696" cy="486" rx="18.00" ry="9.00" fill="url(#g18)"/><ellipse cx="690.5" cy="489" rx="9.00" ry="7.50" fill="url(#g12)"/><ellipse cx="697" cy="517.8" rx="16.50" ry="5.40" fill="url(#g19)"/><ellipse cx="690.2" cy="497.4" rx="5.25" ry="5.25" fill="url(#g20)"/><ellipse cx="690.4" cy="509.3" rx="5.25" ry="5.25" fill="url(#g20)"/><ellipse cx="694.8" cy="492.5" rx="3.94" ry="3.94" fill="url(#g21)"/><ellipse cx="702" cy="497" rx="6.00" ry="6.00" fill="url(#g6)"/><ellipse cx="706.6" cy="502.2" rx="6.00" ry="5.40" fill="url(#g22)"/><ellipse cx="706.8" cy="496.8" rx="3.90" ry="3.90" fill="url(#g23)"/></g>
<g clip-path="url(#c31)"><rect x="8.5" y="596.5" width="195.0" height="193.45" fill="rgb(207,207,207)"/><ellipse cx="110" cy="698" rx="30" ry="30" fill="url(#g24)"/><ellipse cx="97.5" cy="699" rx="13.50" ry="19.50" fill="url(#g14)"/><ellipse cx="105" cy="684.5" rx="16.50" ry="9.60" fill="url(#g25)" transform="rotate(10 105 684.5)"/><ellipse cx="110.8" cy="697.6" rx="13.5" ry="18" fill="url(#g26)" transform="rotate(-28 110.8 697.6)"/></g>
<g clip-path="url(#c32)"><rect x="204.5" y="596.5" width="195.0" height="193.45" fill="rgb(85,85,85)"/><ellipse cx="290" cy="697" rx="15.00" ry="24.00" fill="url(#g27)"/><ellipse cx="312" cy="685" rx="21.00" ry="22.50" fill="url(#g28)"/><ellipse cx="308" cy="689.3" rx="10.80" ry="5.10" fill="url(#g29)"/><ellipse cx="314" cy="694.5" rx="5.10" ry="11.40" fill="url(#g6)"/><ellipse cx="294.3" cy="699" rx="5.10" ry="14.40" fill="url(#g30)"/><ellipse cx="298" cy="693.3" rx="6.90" ry="5.10" fill="url(#g31)"/><ellipse cx="306.4" cy="705.4" rx="4.80" ry="4.80" fill="url(#g31)"/><ellipse cx="300" cy="708.5" rx="10.50" ry="4.80" fill="url(#g23)"/><ellipse cx="306" cy="684.5" rx="3.90" ry="3.90" fill="url(#g32)"/><ellipse cx="304" cy="700" rx="12.00" ry="12.00" fill="url(#g33)"/></g>
<g clip-path="url(#c33)"><rect x="400.5" y="596.5" width="195.0" height="193.45" fill="rgb(136,136,136)"/><ellipse cx="500.5" cy="696" rx="31" ry="32" fill="url(#g34)"/><ellipse cx="500.5" cy="695" rx="25" ry="26" fill="url(#g35)"/><ellipse cx="500.5" cy="696" rx="18" ry="19" fill="url(#g36)"/><ellipse cx="499" cy="676.5" rx="18.00" ry="7.50" fill="url(#g37)"/><ellipse cx="501" cy="712.5" rx="16.50" ry="6.00" fill="url(#g12)"/><ellipse cx="510" cy="703" rx="7.50" ry="15.00" fill="url(#g3)"/><ellipse cx="502.5" cy="692.5" rx="4.80" ry="8.40" fill="url(#g29)"/><ellipse cx="510.5" cy="693.7" rx="6.60" ry="4.80" fill="url(#g38)"/><ellipse cx="500" cy="685" rx="15.00" ry="3.90" fill="url(#g12)"/><ellipse cx="490.7" cy="698.5" rx="4.50" ry="13.80" fill="url(#g31)"/><ellipse cx="494.5" cy="693" rx="6.60" ry="4.80" fill="url(#g31)"/><ellipse cx="494" cy="705.2" rx="5.10" ry="4.20" fill="url(#g21)"/></g>
<g clip-path="url(#c34)"><rect x="596.5" y="596.5" width="195.0" height="193.45" fill="rgb(160,160,160)"/><ellipse cx="697" cy="697" rx="25" ry="26" fill="url(#g39)"/><ellipse cx="697" cy="698" rx="18" ry="19" fill="url(#g40)"/><ellipse cx="696" cy="682" rx="18.00" ry="9.00" fill="url(#g41)"/><ellipse cx="690.5" cy="685" rx="9.00" ry="7.50" fill="url(#g42)"/><ellipse cx="697" cy="713.8" rx="16.50" ry="5.40" fill="url(#g43)"/><ellipse cx="690.2" cy="693.4" rx="6.30" ry="6.30" fill="url(#g44)"/><ellipse cx="690.4" cy="705.3" rx="6.30" ry="6.30" fill="url(#g44)"/><ellipse cx="694.8" cy="688.5" rx="4.73" ry="4.73" fill="url(#g45)"/><ellipse cx="702" cy="693" rx="5.55" ry="5.55" fill="url(#g46)"/><ellipse cx="706.6" cy="698.2" rx="5.55" ry="5.00" fill="url(#g47)"/><ellipse cx="706.8" cy="692.8" rx="3.90" ry="3.90" fill="url(#g28)"/></g>
<g fill="none" stroke-width="1.35">
<circle cx="111.2" cy="300.5" r="39.2" stroke="#000"/><circle cx="115.6" cy="306.7" r="39.2" stroke="#f00"/>
<circle cx="307.1" cy="307.1" r="39.2" stroke="#000"/>
<circle cx="503.2" cy="300.5" r="39.2" stroke="#000"/><circle cx="507.6" cy="306.7" r="39.2" stroke="#f00"/>
</g>
<g stroke="#000" stroke-width="1.2">
<line x1="109.5" y1="400" x2="109.5" y2="440"/>
<line x1="8" y1="501.5" x2="48" y2="501.5"/>
<line x1="305.5" y1="400" x2="305.5" y2="440"/>
<line x1="204" y1="501.5" x2="244" y2="501.5"/>
<line x1="501.5" y1="400" x2="501.5" y2="440"/>
<line x1="400" y1="501.5" x2="440" y2="501.5"/>
<line x1="697.5" y1="400" x2="697.5" y2="440"/>
<line x1="596" y1="501.5" x2="636" y2="501.5"/>
<line x1="109.5" y1="596" x2="109.5" y2="636"/>
<line x1="8" y1="697.5" x2="48" y2="697.5"/>
<line x1="305.5" y1="596" x2="305.5" y2="636"/>
<line x1="204" y1="697.5" x2="244" y2="697.5"/>
<line x1="501.5" y1="596" x2="501.5" y2="636"/>
<line x1="400" y1="697.5" x2="440" y2="697.5"/>
<line x1="697.5" y1="596" x2="697.5" y2="636"/>
<line x1="596" y1="697.5" x2="636" y2="697.5"/>
</g>
<g fill="none" stroke="#000" stroke-width="1.35">
<rect x="8.5" y="204.5" width="196" height="196"/>
<rect x="204.5" y="204.5" width="196" height="196"/>
<rect x="400.5" y="204.5" width="196" height="196"/>
<rect x="596.5" y="204.5" width="196" height="196"/>
<rect x="8.5" y="400.5" width="196" height="196"/>
<rect x="204.5" y="400.5" width="196" height="196"/>
<rect x="400.5" y="400.5" width="196" height="196"/>
<rect x="596.5" y="400.5" width="196" height="196"/>
<rect x="8.5" y="596.5" width="196" height="196"/>
<rect x="204.5" y="596.5" width="196" height="196"/>
<rect x="400.5" y="596.5" width="196" height="196"/>
<rect x="596.5" y="596.5" width="196" height="196"/>
</g>
<rect x="597" y="205" width="195" height="195" fill="#fff"/>
<g fill="#000">
<rect x="604.00" y="394.4" width="1" height="5.6"/><rect x="604.00" y="205" width="1" height="5.6"/>
<rect x="634.00" y="394.4" width="1" height="5.6"/><rect x="634.00" y="205" width="1" height="5.6"/>
<rect x="664.00" y="394.4" width="1" height="5.6"/><rect x="664.00" y="205" width="1" height="5.6"/>
<rect x="694.00" y="394.4" width="1" height="5.6"/><rect x="694.00" y="205" width="1" height="5.6"/>
<rect x="724.00" y="394.4" width="1" height="5.6"/><rect x="724.00" y="205" width="1" height="5.6"/>
<rect x="754.00" y="394.4" width="1" height="5.6"/><rect x="754.00" y="205" width="1" height="5.6"/>
<rect x="784.00" y="394.4" width="1" height="5.6"/><rect x="784.00" y="205" width="1" height="5.6"/>
<rect x="597" y="217.00" width="5.6" height="1"/><rect x="786.4" y="217.00" width="5.6" height="1"/>
<rect x="597" y="253.00" width="5.6" height="1"/><rect x="786.4" y="253.00" width="5.6" height="1"/>
<rect x="597" y="290.00" width="5.6" height="1"/><rect x="786.4" y="290.00" width="5.6" height="1"/>
<rect x="597" y="327.00" width="5.6" height="1"/><rect x="786.4" y="327.00" width="5.6" height="1"/>
<rect x="597" y="363.00" width="5.6" height="1"/><rect x="786.4" y="363.00" width="5.6" height="1"/>
</g>
<path d="M604.5 380 L609.0 389 L600.0 389 Z" fill="#00f"/>
<circle cx="604.5" cy="382.5" r="4.2" fill="#00f" stroke="#000" stroke-width="0.6"/>
<path d="M643.6 380 L648.1 389 L639.1 389 Z" fill="#00f"/>
<circle cx="643.6" cy="382.5" r="4.2" fill="#00f" stroke="#000" stroke-width="0.6"/>
<path d="M659.5 380 L664.0 389 L655.0 389 Z" fill="#00f"/>
<circle cx="659.5" cy="382.5" r="4.2" fill="#00f" stroke="#000" stroke-width="0.6"/>
<path d="M680.4 380 L684.9 389 L675.9 389 Z" fill="#00f"/>
<circle cx="680.4" cy="382.5" r="4.2" fill="#00f" stroke="#000" stroke-width="0.6"/>
<path d="M695.6 380 L700.1 389 L691.1 389 Z" fill="#00f"/>
<circle cx="695.6" cy="382.5" r="4.2" fill="#00f" stroke="#000" stroke-width="0.6"/>
<path d="M725.5 380 L730.0 389 L721.0 389 Z" fill="#00f"/>
<circle cx="725.5" cy="382.5" r="4.2" fill="#00f" stroke="#000" stroke-width="0.6"/>
<g font-family="'DejaVu Sans','Liberation Sans',sans-serif" fill="#000" style="font-kerning:none">
<text transform="translate(40.38 64) scale(0.9849 1)" font-size="24.2">#127</text>
<text transform="translate(128.67 64) scale(0.9898 1)" font-size="24.2">RA=10:01:56.245</text>
<text transform="translate(350.67 64) scale(0.9902 1)" font-size="24.2">DEC=</text>
<text transform="translate(428.37 64) scale(0.9895 1)" font-size="24.2">2:26:02.34</text>
<text transform="translate(604.86 64) scale(0.9931 1)" font-size="24.2">score=30.0</text>
<text transform="translate(103.28 104) scale(0.9333 1)" font-size="17.8">xc</text>
<text transform="translate(185.69 104) scale(0.9120 1)" font-size="17.8">yc</text>
<text transform="translate(246.64 104) scale(0.9137 1)" font-size="17.8">fwhm</text>
<text transform="translate(303.64 104) scale(0.9157 1)" font-size="17.8">fluxrad</text>
<text transform="translate(371.87 104) scale(0.9296 1)" font-size="17.8">isoarea</text>
<text transform="translate(437.32 104) scale(0.9507 1)" font-size="17.8">mag</text>
<text transform="translate(479.82 104) scale(0.9342 1)" font-size="17.8">auto</text>
<text transform="translate(533.19 104) scale(0.9063 1)" font-size="17.8">aper</text>
<text transform="translate(581.14 104) scale(1.0083 1)" font-size="17.8">cl</text>
<text transform="translate(600.23 104) scale(0.9164 1)" font-size="17.8">star</text>
<text transform="translate(641.13 104) scale(0.9153 1)" font-size="17.8">phmag</text>
<text transform="translate(39.63 128) scale(0.9227 1)" font-size="17.8">dif</text>
<text transform="translate(81.93 128) scale(0.9366 1)" font-size="17.8">2730.80</text>
<text transform="translate(161.84 128) scale(0.9321 1)" font-size="17.8">13477.86</text>
<text transform="translate(262.35 128) scale(0.9324 1)" font-size="17.8">7.14</text>
<text transform="translate(320.28 128) scale(0.9361 1)" font-size="17.8">1.87</text>
<text transform="translate(383.74 128) scale(0.9320 1)" font-size="17.8">83.00</text>
<text transform="translate(457.74 128) scale(0.9278 1)" font-size="17.8">20.36</text>
<text transform="translate(526.33 128) scale(0.9361 1)" font-size="17.8">20.70</text>
<text transform="translate(594.98 128) scale(0.9378 1)" font-size="17.8">0.98</text>
<text transform="translate(663.96 128) scale(0.9155 1)" font-size="17.8">25.50</text>
<text transform="translate(39.15 152) scale(0.9319 1)" font-size="17.8">ref</text>
<text transform="translate(83.83 152) scale(0.9366 1)" font-size="17.8">2731.90</text>
<text transform="translate(163.73 152) scale(0.9342 1)" font-size="17.8">13476.25</text>
<text transform="translate(263.97 152) scale(0.9442 1)" font-size="17.8">3.41</text>
<text transform="translate(321.97 152) scale(0.9442 1)" font-size="17.8">2.51</text>
<text transform="translate(380.97 152) scale(0.9267 1)" font-size="17.8">925.00</text>
<text transform="translate(465.24 152) scale(0.9312 1)" font-size="17.8">16.41</text>
<text transform="translate(534.06 152) scale(0.9215 1)" font-size="17.8">16.46</text>
<text transform="translate(602.38 152) scale(0.9369 1)" font-size="17.8">0.84</text>
<text transform="translate(664.26 152) scale(0.9215 1)" font-size="17.8">16.38</text>
<text transform="translate(716.79 152) scale(0.9064 1)" font-size="17.8">ref</text>
<text transform="translate(664.26 176) scale(0.9215 1)" font-size="17.8">16.36</text>
<text transform="translate(716.75 176) scale(0.9304 1)" font-size="17.8">new</text>
<text transform="translate(80.31 184) scale(0.9891 1)" font-size="20.0">dist=</text>
<text transform="translate(145.96 184) scale(0.9951 1)" font-size="20.0">1.95</text>
<text transform="translate(229.00 184) scale(1.0000 1)" font-size="20.0">z=</text>
<text transform="translate(274.77 184) scale(1.0190 1)" font-size="20.0">nan</text>
<text transform="translate(13.94 398) scale(0.9276 1)" font-size="17.8">20111227</text>
<text transform="translate(211.41 398) scale(0.9200 1)" font-size="17.8">-20140209</text>
<text transform="translate(406.88 398) scale(0.9260 1)" font-size="17.8">R20140209</text>
<text transform="translate(11.94 592) scale(0.9276 1)" font-size="17.8" fill="#f00">20111227</text>
<text transform="translate(207.94 592) scale(0.9303 1)" font-size="17.8">20120122</text>
<text transform="translate(403.94 592) scale(0.9303 1)" font-size="17.8">20120202</text>
<text transform="translate(599.95 592) scale(0.9224 1)" font-size="17.8">20120216</text>
<text transform="translate(11.95 788) scale(0.9224 1)" font-size="17.8">20120226</text>
<text transform="translate(207.94 788) scale(0.9276 1)" font-size="17.8">20120317</text>
<text transform="translate(403.94 788) scale(0.9250 1)" font-size="17.8">20120509</text>
<text transform="translate(599.94 788) scale(0.9276 1)" font-size="17.8">20131227</text>
<text transform="translate(598.04 420) scale(0.9150 1)" font-size="17.8">0</text>
<text transform="translate(622.59 420) scale(0.9150 1)" font-size="17.8">20</text>
<text transform="translate(653.82 420) scale(0.9150 1)" font-size="17.8">40</text>
<text transform="translate(682.89 420) scale(0.9150 1)" font-size="17.8">60</text>
<text transform="translate(713.79 420) scale(0.9150 1)" font-size="17.8">80</text>
<text transform="translate(738.70 420) scale(0.9150 1)" font-size="17.8">100</text>
<text transform="translate(768.50 420) scale(0.9150 1)" font-size="17.8">120</text>
<text transform="translate(568.79 221.9) scale(0.9150 1)" font-size="17.8">21</text>
<text transform="translate(568.79 257.9) scale(0.9150 1)" font-size="17.8">22</text>
<text transform="translate(568.56 294.9) scale(0.9150 1)" font-size="17.8">23</text>
<text transform="translate(568.10 331.9) scale(0.9150 1)" font-size="17.8">24</text>
<text transform="translate(568.79 367.9) scale(0.9150 1)" font-size="17.8">25</text>
<text transform="translate(568.33 404.9) scale(0.9150 1)" font-size="17.8">26</text>
</g>
</svg>
</body></html>
